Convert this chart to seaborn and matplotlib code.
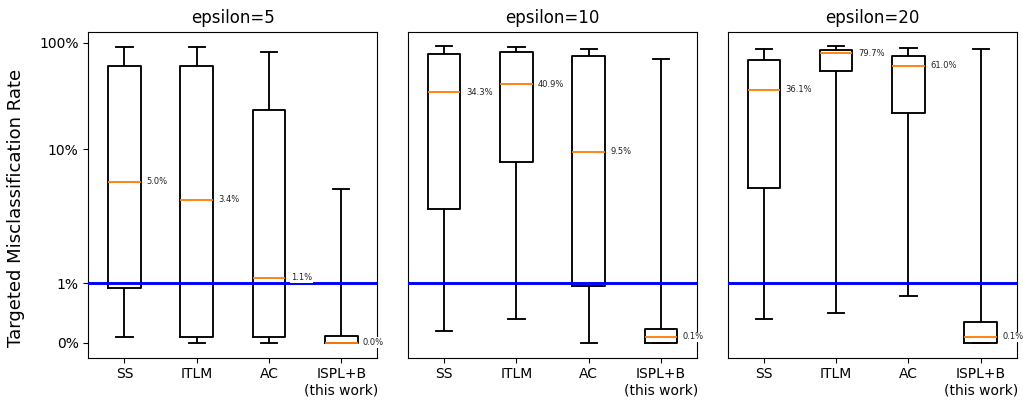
import matplotlib
matplotlib.use("Agg")
import numpy as np
import pandas as pd
import matplotlib.pyplot as plt
from matplotlib.ticker import NullLocator
import seaborn as sns

methods = ["SS", "ITLM", "AC", "ISPL+B\n(this work)"]
epsilons = [5, 10, 20]

# Box statistics in percent, one row per epsilon, one entry per method
whisker_low = [
    [0.10, 0.0, 0.0, 0.0],
    [0.20, 0.40, 0.0, 0.0],
    [0.40, 0.50, 0.79, 0.0],
]
q1 = [
    [0.93, 0.10, 0.10, 0.0],
    [2.8, 7.7, 0.95, 0.0],
    [4.4, 54.5, 22.0, 0.0],
]
median = [
    [5.0, 3.4, 1.1, 0.0],
    [34.3, 40.9, 9.5, 0.1],
    [36.1, 79.7, 61.0, 0.1],
]
q3 = [
    [60.0, 61.0, 23.5, 0.12],
    [78.0, 81.0, 74.5, 0.23],
    [69.5, 84.5, 75.0, 0.35],
]
whisker_high = [
    [92.0, 92.0, 82.5, 4.3],
    [92.5, 91.0, 87.0, 71.0],
    [88.0, 92.5, 88.5, 86.5],
]

ytick_values = [0, 1, 10, 100]
ytick_labels = ["0%", "1%", "10%", "100%"]
threshold = 1.0

rows = []
for e, eps in enumerate(epsilons):
    for m, name in enumerate(methods):
        for v in (whisker_low[e][m], q1[e][m], median[e][m], q3[e][m], whisker_high[e][m]):
            rows.append({"epsilon": eps, "method": name, "rate": v})
df = pd.DataFrame(rows)

fig, axes = plt.subplots(1, 3, figsize=(10.23, 4.0), dpi=100, sharey=True)
fig.subplots_adjust(left=0.0863, right=0.994, bottom=0.106, top=0.921, wspace=0.106)

for e, (ax, eps) in enumerate(zip(axes, epsilons)):
    sub = df[df["epsilon"] == eps]
    sns.boxplot(
        data=sub, x="method", y="rate", order=methods, ax=ax,
        whis=(0, 100), width=0.45, fill=False, color="black", linewidth=1.35,
        showfliers=False, medianprops={"color": "#ff7f0e"},
    )
    ax.axhline(threshold, color="blue", lw=2.1, zorder=3)
    ax.set_yscale("symlog", linthresh=2)
    ax.set_ylim(-0.25, 127)
    ax.set_xlim(-0.5, 3.5)
    ax.set_yticks(ytick_values)
    ax.set_yticklabels(ytick_labels)
    ax.yaxis.set_minor_locator(NullLocator())
    ax.set_title(f"epsilon={eps}", fontsize=12)
    ax.set_xlabel("")
    ax.set_ylabel("")
    ax.tick_params(axis="both", labelsize=10)
    for m, val in enumerate(median[e]):
        ax.text(m + 0.30, val, f"{val:.1f}%", fontsize=6, ha="left", va="center",
                color="#222222", zorder=5, clip_on=False,
                bbox=dict(facecolor="white", edgecolor="none", pad=0.6))
    if e > 0:
        ax.tick_params(axis="y", left=False, labelleft=False)

axes[0].set_ylabel("Targeted Misclassification Rate", fontsize=13, labelpad=10, y=0.46)

fig.savefig("out.png", dpi=100)
